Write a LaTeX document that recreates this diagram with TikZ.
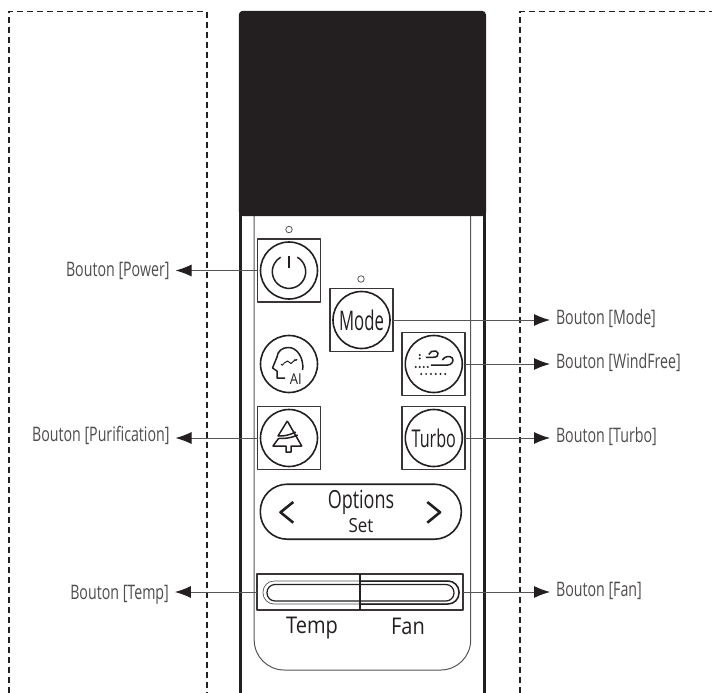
\documentclass[tikz,border=0pt]{standalone}
\usepackage{fontspec}
\setmainfont{Open Sans}
\newfontfamily\tagfont[FakeStretch=0.72]{Open Sans}
\newfontfamily\labelfont[FakeStretch=0.71]{Open Sans}
\newfontfamily\keyfont[FakeStretch=0.62]{Open Sans}
\newfontfamily\turbofont[FakeStretch=0.66]{Open Sans}
\newfontfamily\panelfont[FakeStretch=0.87]{Open Sans}
\usetikzlibrary{svg.path}
\usetikzlibrary{positioning}
\usetikzlibrary{arrows.meta}
\definecolor{inkdark}{HTML}{231F20}
\definecolor{inkgray}{HTML}{555555}
\tikzset{
  btnbox/.style={draw=inkdark!90, line width=1.8pt, minimum size=63pt, inner sep=0pt, outer sep=0pt},
  btnround/.style={circle, draw=inkdark, line width=1.6pt, minimum size=57pt, inner sep=0pt,
                   text=inkdark, font=\keyfont\fontsize{27}{29}\selectfont},
  ledmark/.style={circle, draw=inkgray, line width=0.8pt, minimum size=6.5pt, inner sep=0pt},
  taglabel/.style={inner sep=0pt, outer sep=6pt, text=inkdark!80, text height=10pt+#1pt, text depth=10pt-#1pt,
                   font=\labelfont\fontsize{20}{22}\selectfont},
  tagline/.style={draw=inkgray, line width=1pt, -{Latex[length=16pt,width=12pt,color=inkdark]}},
  panelline/.style={draw=inkgray, line width=1pt},
  iconline/.style={draw=inkdark, line width=1.5pt},
  frameline/.style={draw=inkdark, line width=1.8pt, dash pattern=on 6pt off 4pt},
}
\begin{document}
\begin{tikzpicture}[x=1pt, y=-1pt, line join=round]
  \useasboundingbox (0,0) rectangle (712,693);
  % the dashed frames
  \draw[frameline] (8.7,693) -- (8.7,11.5) -- (206.8,11.5) -- (206.8,693);
  \draw[frameline] (520,693) -- (520,11.5) -- (712,11.5);
  % the remote: body, screen, inner panel
  \draw[draw=inkdark, line width=2.6pt] (240.6,200) -- (240.6,693);
  \draw[draw=inkdark, line width=2.6pt] (484.4,200) -- (484.4,693);
  \draw[panelline, rounded corners=30pt] (254.2,200) -- (254.2,670) -- (470.7,670) -- (470.7,200);
  \fill[inkdark, rounded corners=4pt] (238.8,216) -- (238.8,10.8) -- (486,10.8) -- (486,216) -- cycle;
  % buttons
  \node[btnbox] (powerbox) at (289,270.5) {};
  \node[btnround] (powerbtn) at (powerbox.center) {};
  \node[ledmark] (powerled) at (289,229.5) {};
  \node[btnbox] (modebox) at (361.5,320) {};
  \node[btnround] (modebtn) at (modebox.center) {Mode};
  \node[ledmark] (modeled) at (361,279) {};
  \node[btnround] (aibtn) at (289,364) {};
  \node[btnbox] (windbox) at (433.8,364) {};
  \node[btnround] (windbtn) at (windbox.center) {};
  \node[btnbox] (purebox) at (289,438) {};
  \node[btnround] (purebtn) at (purebox.center) {};
  \node[btnbox] (turbobox) at (433.8,438) {};
  \node[btnround, font=\turbofont\fontsize{24.5}{26}\selectfont] (turbobtn) at (turbobox.center) {Turbo};
  % options key
  \node[draw=inkdark, line width=1.6pt, rounded corners=27pt, minimum width=201pt, minimum height=55pt,
        inner sep=0pt] (optionkey) at (360.8,511.7) {};
  \node[text=inkdark, inner sep=0pt, font=\tagfont\fontsize{25}{27}\selectfont] (optiontext) at (361,502) {Options};
  \node[text=inkdark, inner sep=0pt, font=\panelfont\fontsize{19.5}{22}\selectfont] (settext) at (361,526) {Set};
  \draw[inkdark, line width=2.6pt] (293.3,502) -- (280.5,512.3) -- (293.3,522.7);
  \draw[inkdark, line width=2.6pt] (427.3,502) -- (440,512.3) -- (427.3,522.7);
  % temp and fan keys
  \node[btnbox, minimum width=205.7pt, minimum height=36pt] (tempfanbox) at (360.2,592) {};
  \coordinate (tempkey) at (tempfanbox.west);
  \coordinate (fankey) at (tempfanbox.east);
  \draw[draw=inkgray, line width=0.7pt, rounded corners=11pt] (263,581) rectangle (459,604);
  \draw[draw=inkdark, line width=1.5pt, rounded corners=11pt] (360,581) -- (459,581) -- (459,604) -- (360,604);
  \draw[draw=inkdark, line width=1.2pt, rounded corners=8pt] (267,584.5) rectangle (454,601);
  \draw[draw=inkdark, line width=1.8pt] (tempfanbox.north) -- (tempfanbox.south);
  \node[text=inkdark, inner sep=0pt, font=\panelfont\fontsize{23}{25}\selectfont] (templabel) at (312,628) {Temp};
  \node[text=inkdark, inner sep=0pt, font=\panelfont\fontsize{23}{25}\selectfont] (fanlabel) at (408,626) {Fan};
  % power icon
  \begin{scope}[shift={(289,271.7)}, yscale=-1, iconline]
    \draw svg {M 8.3 -14.5 A 16.7 16.7 0 1 1 -8.3 -14.5};
    \draw svg {M 0 -15.7 V -3.3};
  \end{scope}
  % head icon
  \begin{scope}[shift={(aibtn.center)}, yscale=-1, iconline]
    \draw svg {M 13.7 6 C 15 -6 8 -17 -1 -16.5 C -7 -16.5 -11.5 -12.5 -12 -7 L -16.5 4 L -12 7 V 14 H -4};
    \draw[line width=1pt] svg {M -5.5 -0.5 L -1.5 -3 L 2 -0.5 L 6 -4};
    \draw[line width=1pt] svg {M -8 0 a 1.2 1.2 0 1 0 2.4 0 a 1.2 1.2 0 1 0 -2.4 0};
    \draw[line width=1pt] svg {M 5.6 -4.7 a 1.2 1.2 0 1 0 2.4 0 a 1.2 1.2 0 1 0 -2.4 0};
  \end{scope}
  \node[text=inkdark, inner sep=0pt, font=\panelfont\fontsize{15}{17}\selectfont] (ailabel) at (295.7,379) {AI};
  % wind icon
  \begin{scope}[shift={(windbtn.center)}, yscale=-1, iconline]
    \draw svg {M -5 -9.5 C -4 -12.5 -1 -13.5 2 -13 C 4.5 -12.5 5 -9.5 3.5 -8 C 2.5 -7 1 -6.7 -1 -6.7 H -8};
    \draw svg {M -3 1.2 H 13 C 18 1.2 20.5 -3 18.5 -6 C 16 -8.5 11 -8 8.5 -4};
    \foreach \dotx/\doty in {-14/-9, -14/-5.5, -18/3, -14/3, -10/3, -6/3,
                             -12.5/10, -7.7/10, -2.9/10, 1.9/10, 6.7/10, 11.5/10}
      \fill[inkdark] (\dotx pt,\doty pt) circle (1.1pt);
  \end{scope}
  % tree icon
  \begin{scope}[shift={(purebtn.center)}, yscale=-1, iconline]
    \draw svg {M -1.7 -17 L -11 -2 Q -2 -1.5 6.7 -6};
    \draw svg {M -1.7 -17 L 12.7 8 H 2 V 14 H -3 V 8 H -16 L -10.5 0.5 Q 0 1 8.7 -3};
  \end{scope}
  % labels
  \node[taglabel=5.7, left=82pt of powerbox] (powertag) {Bouton [Power]};
  \node[taglabel=3.7, left=82pt of purebox] (puretag) {Bouton [Purification]};
  \node[taglabel=7.3, left=82.5pt of tempkey] (temptag) {Bouton [Temp]};
  \node[taglabel=4.3, right=157pt of modebox] (modetag) {Bouton [Mode]};
  \node[taglabel=4.3, right=84.7pt of windbox] (windtag) {Bouton [WindFree]};
  \node[taglabel=4.3, right=84.7pt of turbobox] (turbotag) {Bouton [Turbo]};
  \node[taglabel=4.3, right=87pt of fankey] (fantag) {Bouton [Fan]};
  % connectors
  \draw[tagline] (powerbox) -- (powertag);
  \draw[tagline] (purebox) -- (puretag);
  \draw[tagline] (tempkey) -- (temptag);
  \draw[tagline] (modebox) -- (modetag);
  \draw[tagline] (windbox) -- (windtag);
  \draw[tagline] (turbobox) -- (turbotag);
  \draw[tagline] (fankey) -- (fantag);
\end{tikzpicture}
\end{document}
